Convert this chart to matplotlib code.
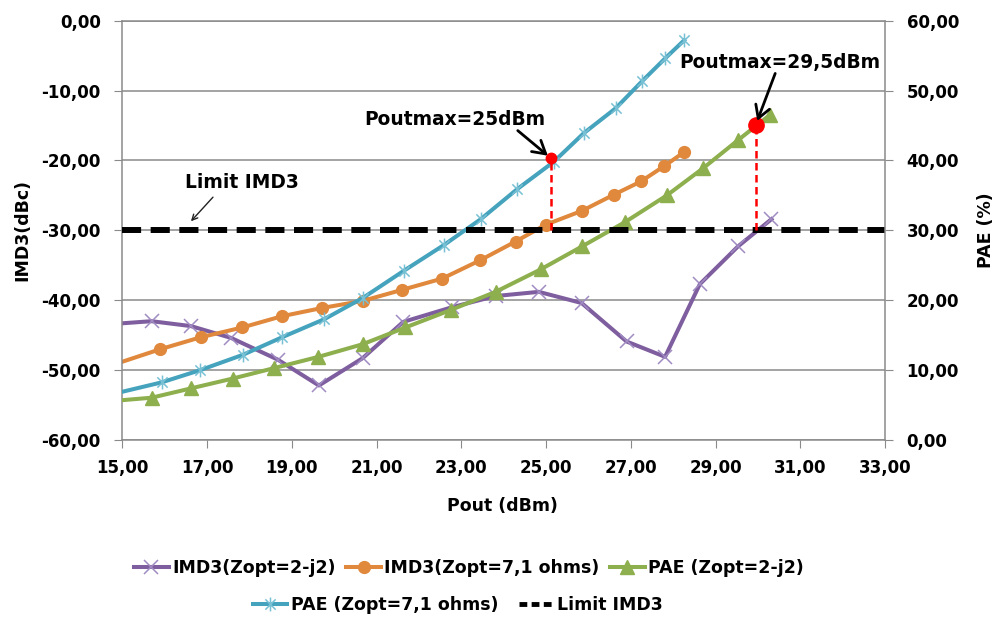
import matplotlib.pyplot as plt
from matplotlib.lines import Line2D
from matplotlib.path import Path
from matplotlib.ticker import FuncFormatter, MultipleLocator

# IMD3 (dBc) vs Pout (dBm)
pout_imd3_zopt = [15.0, 15.69, 16.62, 17.57, 18.67, 19.64, 20.67, 21.63, 22.78, 23.81,
                  24.83, 25.84, 26.90, 27.81, 28.63, 29.53, 30.32]
imd3_zopt = [-43.3, -43.0, -43.7, -45.4, -48.5, -52.2, -48.3, -43.1, -41.0, -39.4,
             -38.8, -40.4, -45.9, -48.1, -37.7, -32.3, -28.4]

pout_imd3_7ohm = [15.0, 15.9, 16.85, 17.83, 18.76, 19.72, 20.67, 21.61, 22.55, 23.44,
                  24.28, 24.99, 25.85, 26.6, 27.24, 27.79, 28.26]
imd3_7ohm = [-48.8, -47.0, -45.3, -43.9, -42.3, -41.1, -40.1, -38.5, -36.9, -34.3,
             -31.6, -29.2, -27.2, -24.9, -23.0, -20.8, -18.8]

# PAE (%) vs Pout (dBm)
pout_pae_zopt = [15.0, 15.69, 16.63, 17.61, 18.59, 19.63, 20.67, 21.68, 22.75, 23.81,
                 24.87, 25.85, 26.87, 27.85, 28.71, 29.53, 30.28]
pae_zopt = [5.7, 6.05, 7.4, 8.8, 10.3, 11.9, 13.7, 16.1, 18.6, 21.2,
            24.4, 27.7, 31.2, 35.0, 38.9, 42.9, 46.5]

pout_pae_7ohm = [15.0, 15.93, 16.84, 17.85, 18.77, 19.77, 20.67, 21.64, 22.59, 23.46,
                 24.32, 25.18, 25.89, 26.65, 27.26, 27.81, 28.26]
pae_7ohm = [6.9, 8.25, 10.0, 12.2, 14.7, 17.3, 20.3, 24.2, 27.9, 31.6,
            35.9, 39.8, 43.9, 47.5, 51.3, 54.6, 57.2]

limit_pout = [15, 33]
limit_imd3 = [-30, -30]

# points where the curves meet the limit (Poutmax)
poutmax_pout = [25.12, 29.95]
poutmax_pae = [40.3, 45.1]
poutmax_text = ['Poutmax=25dBm', 'Poutmax=29,5dBm']

xticks = list(range(15, 34, 2))

plt.rcParams['font.family'] = 'DejaVu Sans'
plt.rcParams['font.weight'] = 'bold'

purple = '#7E5E9E'
orange = '#E0883C'
green = '#8DAF4E'
blue = '#45A3BD'
gray = '#8a8a8a'

fig = plt.figure(figsize=(9.95, 6.17), dpi=100)
ax = fig.add_axes([122.3 / 995, 1 - 440 / 617, (885 - 122.3) / 995, (440 - 20.7) / 617])
ax2 = ax.twinx()

# Excel-like star marker: x with a vertical bar
star = Path([(-1, -1), (1, 1), (-1, 1), (1, -1), (0, -1.35), (0, 1.35)],
            [Path.MOVETO, Path.LINETO, Path.MOVETO, Path.LINETO, Path.MOVETO, Path.LINETO])

# the first point sits on the left edge, Excel shows no marker there
skip_edge = slice(1, None)

h_a, = ax.plot(pout_imd3_zopt, imd3_zopt, color=purple, lw=2.9, marker='x', ms=10,
               mec='#A08CC2', mew=1.1, markevery=skip_edge, label='IMD3(Zopt=2-j2)')
h_b, = ax.plot(pout_imd3_7ohm, imd3_7ohm, color=orange, lw=2.9, marker='o', ms=8.5,
               mec=orange, markevery=skip_edge, label='IMD3(Zopt=7,1 ohms)')
h_c, = ax2.plot(pout_pae_zopt, pae_zopt, color=green, lw=2.9, marker='^', ms=10,
                mec=green, markevery=skip_edge, label='PAE (Zopt=2-j2)')
h_d, = ax2.plot(pout_pae_7ohm, pae_7ohm, color=blue, lw=2.9, marker=star, ms=10,
                mec='#78C0D4', mew=1.1, markevery=skip_edge, label='PAE (Zopt=7,1 ohms)')

# limit line drawn on top, in IMD3 coordinates
ax2.plot(limit_pout, limit_imd3, color='black', lw=4.3, dashes=(3.2, 1.6),
         solid_capstyle='butt', dash_capstyle='butt', transform=ax.transData)
h_lim = Line2D([], [], color='black', lw=3.5, dashes=(1.6, 0.9), dash_capstyle='butt',
               label='Limit IMD3')

# PAE axis 0..60 sits on IMD3 axis -60..0, so the limit is at PAE = limit + 60
limit_on_pae = limit_imd3[0] + 60
ax2.vlines(poutmax_pout, limit_on_pae, poutmax_pae, colors='red', lw=1.8,
           linestyles=(0, (3.0, 1.8)), zorder=4)
for x, y, ms in zip(poutmax_pout, poutmax_pae, (7.5, 11)):
    ax2.plot(x, y, 'o', color='red', ms=ms, zorder=5)

# annotations
text_offsets = [(-69, 28), (17, 45)]
arrow_offsets = [(-24, 20), (14, 37)]
for x, y, txt, to, ao in zip(poutmax_pout, poutmax_pae, poutmax_text, text_offsets, arrow_offsets):
    ax2.annotate(txt, xy=(x, y), xytext=to, textcoords='offset points',
                 ha='center', va='center', fontsize=13.4, fontweight='bold', zorder=6)
    ax2.annotate('', xy=(x, y), xytext=ao, textcoords='offset points',
                 arrowprops=dict(arrowstyle='->, head_length=0.6, head_width=0.35',
                                 color='black', lw=2, mutation_scale=15, shrinkA=0, shrinkB=3),
                 zorder=6)

ax.text(17.82, -23.2, 'Limit IMD3', ha='center', va='center', fontsize=13.4, fontweight='bold')
ax.annotate('', xy=(16.62, -28.7), xytext=(17.14, -25.25),
            arrowprops=dict(arrowstyle='->', color='#222222', lw=1, shrinkA=0, shrinkB=0))

# axes
comma = FuncFormatter(lambda v, p: f'{v:.2f}'.replace('.', ','))
ax.set_xlim(15, 33)
ax.set_ylim(-60, 0)
ax2.set_ylim(0, 60)
ax.set_xticks(xticks)
ax.yaxis.set_major_locator(MultipleLocator(10))
ax2.yaxis.set_major_locator(MultipleLocator(10))
ax.xaxis.set_major_formatter(comma)
ax.yaxis.set_major_formatter(comma)
ax2.yaxis.set_major_formatter(comma)

ax.yaxis.grid(True, color=gray, lw=1.1)
ax.set_axisbelow(True)

for s in ('left', 'bottom', 'top'):
    ax.spines[s].set_color(gray)
    ax.spines[s].set_linewidth(1.1)
ax.spines['right'].set_visible(False)
for s in ('left', 'bottom', 'top'):
    ax2.spines[s].set_visible(False)
ax2.spines['right'].set_color(gray)
ax2.spines['right'].set_linewidth(1.1)

ax.tick_params(axis='x', direction='out', length=5.5, color=gray, labelsize=12, pad=8)
ax.tick_params(axis='y', direction='out', length=5.5, color=gray, labelsize=12, pad=10)
ax2.tick_params(axis='y', direction='out', length=5.5, color=gray, labelsize=12, pad=10)

fig.text(22 / 995, 1 - 230 / 617, 'IMD3(dBc)', rotation=90, ha='center', va='center',
         fontsize=12.5, fontweight='bold')
fig.text(986 / 995, 1 - 230 / 617, 'PAE (%)', rotation=90, ha='center', va='center',
         fontsize=12.5, fontweight='bold')
fig.text(502 / 995, 1 - 506 / 617, 'Pout (dBm)', ha='center', va='center',
         fontsize=12.5, fontweight='bold')

# legend in two centred rows
fig.legend(handles=[h_a, h_b, h_c], loc='center', bbox_to_anchor=(469 / 995, 1 - 568 / 617),
           ncol=3, frameon=False, fontsize=12.5, handlelength=2.0, handletextpad=0.2,
           columnspacing=0.6, numpoints=1)
fig.legend(handles=[h_d, h_lim], loc='center', bbox_to_anchor=(458 / 995, 1 - 605 / 617),
           ncol=2, frameon=False, fontsize=12.5, handlelength=2.0, handletextpad=0.2,
           columnspacing=1.2, numpoints=1)

fig.savefig('out.png', dpi=100)
